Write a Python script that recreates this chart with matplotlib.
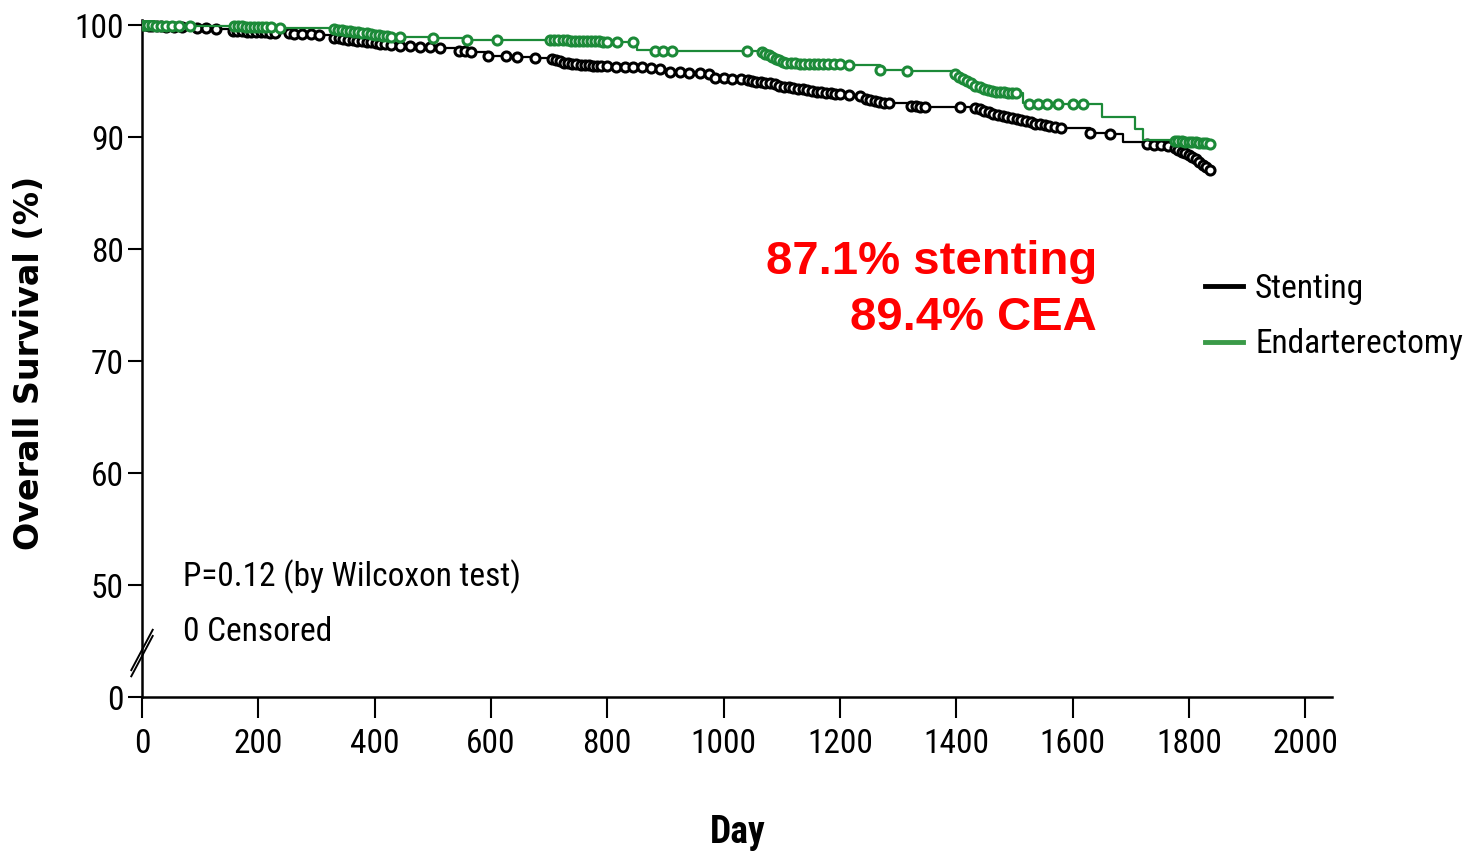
"""Overall survival after carotid stenting vs endarterectomy (Kaplan-Meier)."""

import numpy as np
import matplotlib
matplotlib.use("Agg")
import matplotlib.pyplot as plt
from matplotlib import font_manager
from matplotlib.lines import Line2D


def narrow_family():
    """Prefer a narrow sans if one is installed, else Liberation Sans."""
    names = {f.name for f in font_manager.fontManager.ttflist}
    for cand in ("Liberation Sans Narrow", "Arial Narrow", "Roboto Condensed",
                 "Open Sans Condensed", "DejaVu Sans Condensed"):
        if cand in names:
            return cand
    return "Liberation Sans"


NARROW = narrow_family()
plt.rcParams["font.family"] = [NARROW, "DejaVu Sans"]

# ---------------------------------------------------------------------------
# Survival estimates (day, % alive) for each arm
# ---------------------------------------------------------------------------
stent_days = [
    0, 2, 7, 12, 18, 25, 33, 42, 55, 68,
    95, 110, 128,
    156, 164, 172, 180, 188, 196, 204, 212, 220, 228,
    252, 262, 275, 290, 304,
    330, 338, 346, 354, 362, 370, 378, 386, 394, 402, 410, 418,
    428, 444, 460, 478, 496, 512,
    545, 555, 566,
    595, 625, 645, 675,
    705, 712, 719, 726, 733, 740, 747, 754, 761, 768, 775, 782, 789,
    800, 815, 830, 845, 860, 875, 890,
    908, 925, 940, 960, 975,
    985, 1000, 1015, 1030, 1042,
    1048, 1056, 1064, 1072, 1080, 1088, 1096, 1104, 1112, 1120,
    1128, 1136, 1144, 1152, 1160, 1168, 1176, 1184, 1192, 1200,
    1215, 1235,
    1245, 1252, 1260, 1268, 1276, 1284,
    1322, 1330, 1338, 1346, 1407,
    1432, 1440, 1448, 1456, 1464, 1472, 1480, 1488, 1496, 1504,
    1512, 1520, 1528, 1536, 1544, 1552, 1560,
    1570, 1580, 1630, 1665, 1687,
    1728, 1740, 1752, 1764,
    1776, 1782, 1788, 1794, 1800, 1806, 1812, 1818, 1824, 1830, 1836,
]
stent_surv = [
    100.0, 99.98, 99.96, 99.94, 99.92, 99.9, 99.88, 99.86, 99.84, 99.82,
    99.72, 99.7, 99.68,
    99.5, 99.47, 99.45, 99.42, 99.4, 99.38, 99.36, 99.34, 99.32, 99.3,
    99.25, 99.22, 99.2, 99.18, 99.15,
    98.85, 98.8, 98.75, 98.7, 98.65, 98.6, 98.55, 98.5, 98.45, 98.4, 98.35, 98.3,
    98.2, 98.15, 98.1, 98.05, 98.0, 97.95,
    97.7, 97.65, 97.6,
    97.25, 97.2, 97.15, 97.1,
    96.95, 96.85, 96.75, 96.65, 96.6, 96.55, 96.5, 96.45, 96.42, 96.4, 96.38, 96.35, 96.32,
    96.3, 96.28, 96.26, 96.24, 96.22, 96.2, 96.1,
    95.85, 95.8, 95.75, 95.7, 95.65,
    95.3, 95.25, 95.2, 95.15, 95.1,
    95.0, 94.95, 94.9, 94.85, 94.8, 94.7, 94.6, 94.5, 94.45, 94.4,
    94.3, 94.25, 94.2, 94.1, 94.05, 94.0, 93.95, 93.9, 93.85, 93.8,
    93.75, 93.7,
    93.4, 93.3, 93.2, 93.1, 93.05, 93.0,
    92.8, 92.75, 92.72, 92.7, 92.65,
    92.6, 92.5, 92.35, 92.2, 92.1, 92.0, 91.9, 91.8, 91.7, 91.6,
    91.5, 91.4, 91.3, 91.2, 91.15, 91.1, 91.0,
    90.9, 90.8, 90.4, 90.3, 89.6,
    89.4, 89.3, 89.25, 89.2,
    89.0, 88.85, 88.7, 88.6, 88.4, 88.2, 88.0, 87.8, 87.5, 87.3, 87.1,
]
stent_plain = [0, 1687]   # steps drawn without an event marker

cea_days = [
    0, 2, 6, 11, 17, 24, 32, 41, 52, 64, 83,
    158, 165, 172, 179, 186, 193, 200, 207, 214, 221, 237,
    330, 337, 344, 351, 358, 365, 372, 379, 386, 393, 400, 407, 414, 421, 428,
    444, 501, 559, 610,
    702, 709, 716, 723, 730, 737, 744, 751, 758, 765, 772, 779, 786, 793, 800,
    817, 844, 851, 882, 896, 911, 1040,
    1066, 1072, 1078, 1084, 1090, 1096, 1102, 1108,
    1115, 1123, 1131, 1139, 1147, 1155, 1163, 1171, 1180, 1190, 1200, 1215,
    1269, 1316,
    1393, 1398, 1405, 1412, 1419, 1426, 1433, 1440, 1447, 1454, 1461, 1468,
    1475, 1482, 1489, 1496, 1503,
    1515, 1525, 1540, 1556, 1575, 1600, 1618,
    1651, 1708, 1721,
    1776, 1782, 1788, 1794, 1800, 1806, 1812, 1818, 1824, 1830, 1836,
]
cea_surv = [
    100.0, 99.99, 99.98, 99.97, 99.96, 99.95, 99.94, 99.93, 99.92, 99.91, 99.9,
    99.89, 99.88, 99.87, 99.86, 99.85, 99.84, 99.83, 99.82, 99.81, 99.8, 99.7,
    99.65, 99.6, 99.55, 99.5, 99.45, 99.4, 99.35, 99.3, 99.25, 99.2, 99.15, 99.1, 99.05, 99.0, 98.95,
    98.9, 98.88, 98.7, 98.68,
    98.66, 98.65, 98.64, 98.63, 98.62, 98.61, 98.6, 98.59, 98.58, 98.57, 98.56, 98.55, 98.54, 98.53, 98.52,
    98.5, 98.48, 97.75, 97.72, 97.7, 97.68, 97.66,
    97.55, 97.45, 97.3, 97.15, 97.0, 96.85, 96.7, 96.6,
    96.58, 96.57, 96.56, 96.55, 96.54, 96.53, 96.52, 96.51, 96.5, 96.49, 96.48, 96.47,
    95.95, 95.9,
    95.75, 95.6, 95.4, 95.2, 95.0, 94.8, 94.6, 94.45, 94.3, 94.2, 94.1, 94.05,
    94.0, 93.98, 93.95, 93.92, 93.9,
    93.0, 92.98, 92.97, 92.96, 92.95, 92.94, 92.93,
    91.8, 90.7, 89.7,
    89.65, 89.63, 89.61, 89.59, 89.57, 89.55, 89.52, 89.49, 89.46, 89.43, 89.4,
]
cea_plain = [0, 851, 1393, 1515, 1651, 1708, 1721]

# y positions on the broken axis: "0" sits where 40 would be
ytick_pos = [40, 50, 60, 70, 80, 90, 100]
ytick_lab = ["0", "50", "60", "70", "80", "90", "100"]
xticks = list(range(0, 2001, 200))

BLACK = "#000000"
GREEN = "#1c8a38"
FS = 21 if NARROW == "Liberation Sans" else 24


def draw_arm(ax, days, surv, plain, color, z):
    days = np.asarray(days, dtype=float)
    surv = np.asarray(surv, dtype=float)
    ax.step(days, surv, where="post", color=color, lw=1.6, zorder=z)
    mask = ~np.isin(days, plain)
    ax.plot(days[mask], surv[mask], "o", ms=6.5, mfc="white", mec=color,
            mew=2.2, zorder=z + 0.5, linestyle="none")


fig = plt.figure(figsize=(14.73, 8.55), dpi=100)
ax = fig.add_axes([142 / 1473, 1 - 697 / 855, 1190 / 1473, 677 / 855])

draw_arm(ax, stent_days, stent_surv, stent_plain, BLACK, 3)
draw_arm(ax, cea_days, cea_surv, cea_plain, GREEN, 4)

ax.set_xlim(0, 2046)
ax.set_ylim(40, 100.45)
ax.set_xticks(xticks)
ax.set_xticklabels([str(t) for t in xticks])
ax.set_yticks(ytick_pos)
ax.set_yticklabels(ytick_lab)

for side in ("top", "right"):
    ax.spines[side].set_visible(False)
for side in ("left", "bottom"):
    ax.spines[side].set_linewidth(1.8)
    ax.spines[side].set_color("black")
ax.tick_params(axis="x", length=15, width=1.5, pad=7, labelsize=FS)
ax.tick_params(axis="y", length=10, width=1.5, pad=3, labelsize=FS)

# axis break marks between 50 and 0
brk = ax.get_yaxis_transform()
for dy in (0.0, -0.55):
    ax.plot([-0.009, 0.009], [42.4 + dy, 46.0 + dy], color="black", lw=1.4,
            transform=brk, clip_on=False, zorder=6)

# legend
handles = [Line2D([], [], color=BLACK, lw=3.5),
           Line2D([], [], color="#3a9a48", lw=3.5)]
fig.legend(handles, ["Stenting", "Endarterectomy"], loc="upper left",
           bbox_to_anchor=(1205 / 1473, 1 - 273 / 855), frameon=False,
           fontsize=FS, handlelength=1.15, handletextpad=0.35,
           labelspacing=0.7, borderpad=0, borderaxespad=0)

# annotations
fig.text(1097 / 1473, 1 - 262 / 855, "87.1% stenting", color="#ff0000",
         fontsize=34, fontweight="bold", family="Liberation Sans",
         ha="right", va="center")
fig.text(1097 / 1473, 1 - 318 / 855, "89.4% CEA", color="#ff0000",
         fontsize=34, fontweight="bold", family="Liberation Sans",
         ha="right", va="center")
fig.text(183 / 1473, 1 - 577 / 855, "P=0.12 (by Wilcoxon test)",
         fontsize=FS, ha="left", va="center")
fig.text(183 / 1473, 1 - 632 / 855, "0 Censored",
         fontsize=FS, ha="left", va="center")

fig.text(30 / 1473, 1 - 363 / 855, "Overall Survival (%)", rotation=90,
         fontsize=24, fontweight="bold", family="DejaVu Sans",
         ha="center", va="center")
fig.text(738 / 1473, 1 - 832 / 855, "Day", fontsize=27, fontweight="bold",
         ha="center", va="center")

fig.savefig("out.png", dpi=100)
